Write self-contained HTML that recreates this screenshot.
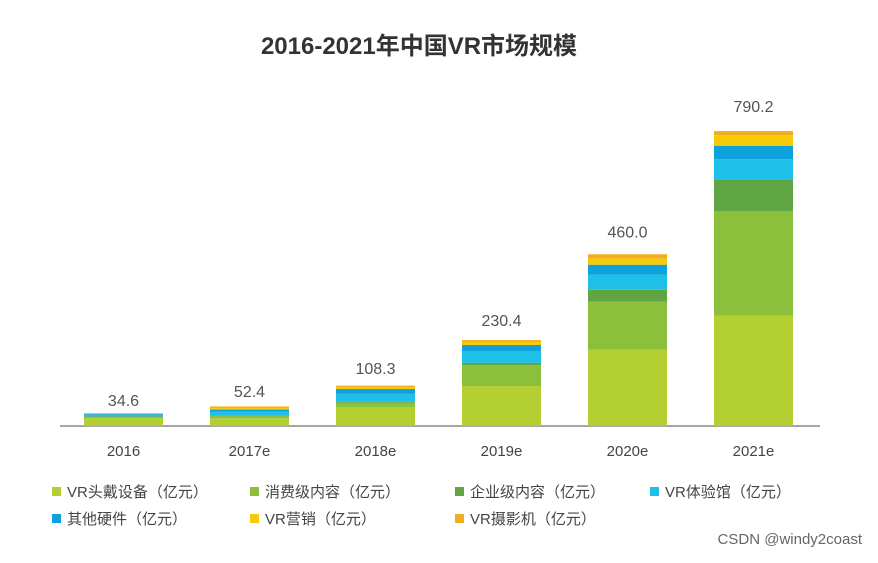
<!DOCTYPE html>
<html><head><meta charset="utf-8"><style>
body{margin:0;background:#fff;width:878px;height:558px;overflow:hidden;font-family:"Liberation Sans","Noto Sans CJK SC",sans-serif}
</style></head><body>
<svg id="c" width="878" height="558">
<text x="419" y="54" text-anchor="middle" font-size="24" font-weight="bold" fill="#333">2016-2021年中国VR市场规模</text>
<line x1="60" y1="426" x2="820" y2="426" stroke="#888" stroke-width="1.5"/>
<g id="bars"></g><g id="legend"></g>
<text x="862" y="544" text-anchor="end" font-size="15" fill="#666">CSDN @windy2coast</text>
</svg>
<script>
const categories=["2016","2017e","2018e","2019e","2020e","2021e"];
const totals=[34.6,52.4,108.3,230.4,460.0,790.2];
const seriesNames=["VR头戴设备（亿元）","消费级内容（亿元）","企业级内容（亿元）","VR体验馆（亿元）","其他硬件（亿元）","VR营销（亿元）","VR摄影机（亿元）"];
const headset=[21,21,51,107,204,295];
const consumer=[3,5,11,56,129,281];
const enterprise=[2,1,3,6,32,83];
const experience=[4,11,21,32,40,56];
const hardware=[2,6,13,16,27,35];
const marketing=[1.5,4.4,5,8,17,29];
const camera=[1.1,4,4,5,11,11];
const series=[headset,consumer,enterprise,experience,hardware,marketing,camera];
const colors=["#b3cf31","#8cc03c","#5fa541","#1ec0e8","#0ea1dc","#f8cb0a","#f2ad1a"];
const NS="http://www.w3.org/2000/svg";
const base=426,scale=295/790.2;
const y=v=>base-v*scale;
const x=i=>84+i*126;
const bw=79;
const g=document.getElementById('bars');
function mk(t,a){const e=document.createElementNS(NS,t);for(const k in a)e.setAttribute(k,a[k]);return e;}
categories.forEach((c,i)=>{
  let acc=0;
  series.forEach((s,j)=>{
    const r=mk('rect',{x:x(i),y:y(acc+s[i]),width:bw,height:s[i]*scale,fill:colors[j]});
    
    
    g.appendChild(r);acc+=s[i];
  });
  const t=mk('text',{x:x(i)+bw/2,y:y(totals[i])-7-i*2.4,'text-anchor':'middle','font-size':16,fill:'#555'});
  t.textContent=totals[i].toFixed(1);
  
  
  g.appendChild(t);
  const l=mk('text',{x:x(i)+bw/2,y:456,'text-anchor':'middle','font-size':15,fill:'#444'});
  l.textContent=c;
  
  
  g.appendChild(l);
});
const lg=document.getElementById('legend');
const lx=[52,250,455,650];
seriesNames.forEach((n,j)=>{
  const px=lx[j%4],py=j<4?492:519;
  const r=mk('rect',{x:px,y:py-5,width:9,height:9,fill:colors[j]});
  
  
  lg.appendChild(r);
  const t=mk('text',{x:px+15,y:py+5,'font-size':15,fill:'#444'});
  t.textContent=n;
  
  
  lg.appendChild(t);
});
</script>
</body></html>
